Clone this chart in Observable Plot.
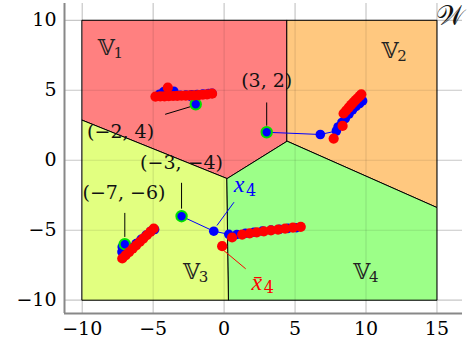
<!DOCTYPE html>
<html><head><meta charset="utf-8">
<script src="https://cdn.jsdelivr.net/npm/d3@7"></script>
<script src="https://cdn.jsdelivr.net/npm/@observablehq/plot@0.6"></script>
<style>body{margin:0;background:#fff}</style>
</head><body><div id="chart"></div>
<script>
// Regions (polygon vertices)
const regionV1 = [[-10,10],[4.44,10],[4.44,1.36],[0.21,-1.31],[-10,2.86]];
const regionV2 = [[4.44,10],[15,10],[15,-3.38],[4.44,1.36]];
const regionV3 = [[-10,2.86],[0.21,-1.31],[0.33,-10],[-10,-10]];
const regionV4 = [[0.21,-1.31],[4.44,1.36],[15,-3.38],[15,-10],[0.33,-10]];
const regionColors = ["#ff8080","#ffc87f","#e2ff80","#9cff88"];
const regionSubs = ["1","2","3","4"];
const regionLabelPos = [[-8.3,8],[11.7,7.8],[-2.3,-8],[9.7,-8]];

// Initial points
const initialPoints = [[-2,4],[3,2],[-3,-4],[-7,-6]];
const initialLabels = ["(−2, 4)","(3, 2)","(−3, −4)","(−7, −6)"];
const initialLabelPos = [[-7.3,2.0],[3,5.7],[-3,-0.2],[-7.06,-2.33]];
const initialPins = [[[-4.13,3.29],[-2.3,3.85]],[[3,4.1],[3,2.5]],[[-3,-1.64],[-3,-3.43]],[[-7,-3.79],[-7,-5.45]]];

// Trajectories (blue iterates x_k) and red points (x̄_k)
const blueA = [[-2,4],[-3.55,4.93],[-4.25,4.9],[-4.55,4.72],[-4.3,4.64],[-3.9,4.62],[-3.5,4.63],[-3.1,4.64],[-2.7,4.66],[-2.3,4.68],[-1.9,4.7],[-1.5,4.73],[-1.1,4.76],[-0.85,4.78]];
const redA = [[-3.97,5.19],[-4.84,4.55],[-4.5,4.56],[-4.2,4.57],[-3.9,4.58],[-3.6,4.59],[-3.3,4.6],[-3.0,4.61],[-2.7,4.62],[-2.4,4.63],[-2.1,4.64],[-1.8,4.66],[-1.5,4.68],[-1.2,4.71],[-0.85,4.76]];
const blueB = [[3,2],[6.78,1.84],[7.91,2.09],[8.03,2.38],[8.3,2.7],[8.54,2.98],[8.8,3.3],[9.05,3.6],[9.3,3.85],[9.55,4.05],[9.76,4.24]];
const redB = [[7.72,1.55],[8.35,2.45],[8.42,3.34],[8.6,3.55],[8.78,3.76],[8.95,3.95],[9.1,4.12],[9.25,4.28],[9.4,4.43],[9.55,4.58],[9.67,4.71]];
const blueC = [[-3,-4],[-0.73,-5.07],[0.33,-5.29],[0.9,-5.3],[1.5,-5.22],[2.1,-5.14],[2.7,-5.06],[3.3,-4.99],[3.9,-4.93],[4.5,-4.87],[5.1,-4.82]];
const redC = [[-0.14,-6.14],[0.56,-5.52],[1.27,-5.31],[1.8,-5.22],[2.3,-5.15],[2.8,-5.08],[3.3,-5.01],[3.8,-4.95],[4.3,-4.89],[4.85,-4.82],[5.4,-4.76]];
const blueD = [[-7,-6],[-7.18,-6.19],[-7.2,-6.55],[-6.9,-6.55],[-6.55,-6.25],[-6.2,-5.95],[-5.85,-5.65],[-5.5,-5.35],[-5.15,-5.05],[-4.9,-4.95]];
const redD = [[-7.18,-7.02],[-6.95,-6.8],[-6.7,-6.56],[-6.45,-6.32],[-6.2,-6.08],[-5.95,-5.84],[-5.7,-5.6],[-5.45,-5.36],[-5.2,-5.12],[-4.96,-4.88]];

// Axis ticks
const xTicks = [-10,-5,0,5,10,15];
const yTicks = [-10,-5,0,5,10];

const xDomain = [-11.25,16.8];
const yDomain = [-10.95,11.2];
const font = "DejaVu Serif";
const mathFont = "Liberation Serif";

const regions = [regionV1,regionV2,regionV3,regionV4];
const blues = [blueA,blueB,blueC,blueD];
const reds = [redA,redB,redC,redD];

const marks = [
  Plot.gridX(xTicks,{stroke:"#000",strokeOpacity:0.13,strokeWidth:1.2}),
  Plot.gridY(yTicks,{stroke:"#000",strokeOpacity:0.13,strokeWidth:1.2}),
];
regions.forEach((r,i)=>{
  marks.push(Plot.line(r,{x:d=>d[0],y:d=>d[1],curve:"linear-closed",fill:regionColors[i],stroke:"black",strokeWidth:1}));
});
marks.push(
  Plot.gridX(xTicks,{stroke:"#000",strokeOpacity:0.1,strokeWidth:1.2}),
  Plot.gridY(yTicks,{stroke:"#000",strokeOpacity:0.1,strokeWidth:1.2}),
  Plot.ruleX([xDomain[0]],{stroke:"#888",strokeWidth:2}),
  Plot.ruleY([yDomain[0]],{stroke:"#888",strokeWidth:2}),
  Plot.axisX(xTicks,{tickSize:0,tickPadding:8,fontSize:19,fontFamily:font,fill:"black",label:null}),
  Plot.axisY(yTicks,{tickSize:0,tickPadding:8,fontSize:19,fontFamily:font,fill:"black",label:null}),
  Plot.text(regionSubs,{x:(d,i)=>regionLabelPos[i][0],y:(d,i)=>regionLabelPos[i][1],text:()=>"𝕍",fontSize:22,fontFamily:font,fill:"#222"}),
  Plot.text(regionSubs,{x:(d,i)=>regionLabelPos[i][0],y:(d,i)=>regionLabelPos[i][1],text:d=>d,dx:12,dy:5,fontSize:15,fontFamily:font,fill:"#222"}),
  Plot.text(["𝒲"],{x:[15],y:[10],text:d=>d,textAnchor:"start",lineAnchor:"bottom",dx:-1,dy:5,fontSize:27,fontFamily:font,fill:"#111"})
);
initialPins.forEach(p=>{
  marks.push(Plot.line(p,{x:d=>d[0],y:d=>d[1],stroke:"black",strokeWidth:1}));
});
marks.push(Plot.text(initialLabels,{x:(d,i)=>initialLabelPos[i][0],y:(d,i)=>initialLabelPos[i][1],text:d=>d,fontSize:19,fontFamily:font,fill:"#111"}));
// x4 and x̄4 pointers
marks.push(
  Plot.line([[-0.49,-4.64],[0.68,-3.02]],{x:d=>d[0],y:d=>d[1],stroke:"blue",strokeWidth:1}),
  Plot.line([[-0.2,-6.3],[1.5,-7.74]],{x:d=>d[0],y:d=>d[1],stroke:"red",strokeWidth:1}),
  Plot.text(["x"],{x:[1.05],y:[-1.75],text:d=>d,fontSize:24,fontFamily:mathFont,fontStyle:"italic",fill:"blue"}),
  Plot.text(["4"],{x:[1.05],y:[-1.75],text:d=>d,dx:12,dy:6,fontSize:16,fontFamily:font,fill:"blue"}),
  Plot.text(["x̄"],{x:[2.3],y:[-8.7],text:d=>d,fontSize:24,fontFamily:mathFont,fontStyle:"italic",fill:"red"}),
  Plot.text(["4"],{x:[2.3],y:[-8.7],text:d=>d,dx:12,dy:6,fontSize:16,fontFamily:font,fill:"red"})
);
blues.forEach(b=>{
  marks.push(Plot.line(b,{x:d=>d[0],y:d=>d[1],stroke:"blue",strokeWidth:1}));
  marks.push(Plot.dot(b.slice(1),{x:d=>d[0],y:d=>d[1],r:4.8,fill:"blue"}));
});
marks.push(Plot.dot(initialPoints,{x:d=>d[0],y:d=>d[1],r:5.2,fill:"blue",stroke:"#00e000",strokeWidth:2}));
reds.forEach(r=>{
  marks.push(Plot.dot(r,{x:d=>d[0],y:d=>d[1],r:5.1,fill:"red"}));
});

const chart = Plot.plot({
  width:473,height:345,
  marginLeft:64,marginRight:11,marginTop:3,marginBottom:32,
  x:{domain:xDomain},
  y:{domain:yDomain},
  style:{fontFamily:font,background:"white",overflow:"visible"},
  marks
});
document.getElementById("chart").appendChild(chart);
</script>
</body></html>
